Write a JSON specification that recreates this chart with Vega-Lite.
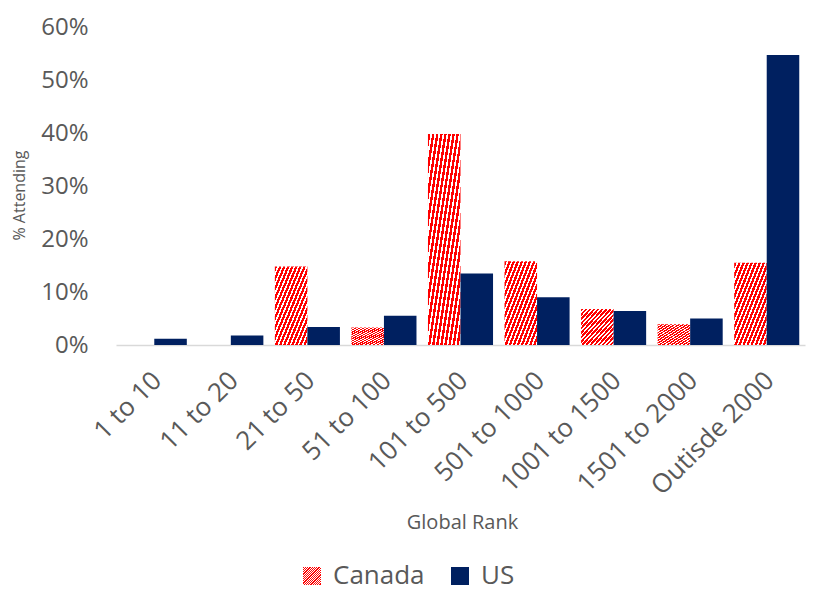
{
  "$schema": "https://vega.github.io/schema/vega-lite/v6.json",
  "width": 689,
  "height": 318,
  "autosize": {"type": "none"},
  "padding": {"left": 116, "top": 27, "right": 8, "bottom": 247},
  "background": "white",
  "config": {"view": {"stroke": null}, "font": "Open Sans"},
  "data": {
    "values": [
      {"rank": "1 to 10", "country": "Canada", "share": 0.0},
      {"rank": "1 to 10", "country": "US", "share": 0.012},
      {"rank": "11 to 20", "country": "Canada", "share": 0.0},
      {"rank": "11 to 20", "country": "US", "share": 0.018},
      {"rank": "21 to 50", "country": "Canada", "share": 0.148},
      {"rank": "21 to 50", "country": "US", "share": 0.034},
      {"rank": "51 to 100", "country": "Canada", "share": 0.033},
      {"rank": "51 to 100", "country": "US", "share": 0.055},
      {"rank": "101 to 500", "country": "Canada", "share": 0.398},
      {"rank": "101 to 500", "country": "US", "share": 0.135},
      {"rank": "501 to 1000", "country": "Canada", "share": 0.158},
      {"rank": "501 to 1000", "country": "US", "share": 0.09},
      {"rank": "1001 to 1500", "country": "Canada", "share": 0.068},
      {"rank": "1001 to 1500", "country": "US", "share": 0.064},
      {"rank": "1501 to 2000", "country": "Canada", "share": 0.039},
      {"rank": "1501 to 2000", "country": "US", "share": 0.05},
      {"rank": "Outisde 2000", "country": "Canada", "share": 0.155},
      {"rank": "Outisde 2000", "country": "US", "share": 0.547}
    ]
  },
  "mark": {"type": "bar", "strokeWidth": 0, "strokeOpacity": 0},
  "encoding": {
    "x": {
      "field": "rank",
      "type": "nominal",
      "sort": ["1 to 10", "11 to 20", "21 to 50", "51 to 100", "101 to 500", "501 to 1000", "1001 to 1500", "1501 to 2000", "Outisde 2000"],
      "scale": {"paddingInner": 0.15, "paddingOuter": 0.075},
      "axis": {
        "labelAngle": -45,
        "labelFontSize": 26,
        "labelColor": "#595959",
        "labelPadding": 22,
        "labelOffset": -6,
        "ticks": false,
        "domainColor": "#d9d9d9",
        "domainWidth": 1.5,
        "title": "Global Rank",
        "titleFontSize": 20,
        "titleFontWeight": "normal",
        "titleColor": "#595959",
        "titleX": 346,
        "titleY": 177,
        "titleBaseline": "middle"
      }
    },
    "xOffset": {"field": "country", "type": "nominal", "sort": ["Canada", "US"]},
    "y": {
      "field": "share",
      "type": "quantitative",
      "scale": {"domain": [0, 0.6], "nice": false},
      "axis": {
        "values": [0, 0.1, 0.2, 0.3, 0.4, 0.5, 0.6],
        "format": ".0%",
        "domain": false,
        "ticks": false,
        "grid": false,
        "labelFontSize": 24,
        "labelColor": "#595959",
        "labelPadding": 28,
        "title": "% Attending",
        "titleFontSize": 16,
        "titleFontWeight": "normal",
        "titleColor": "#595959",
        "titleAngle": -90,
        "titleX": -97,
        "titleY": 168,
        "titleAlign": "center",
        "titleBaseline": "middle"
      }
    },
    "fill": {
      "field": "country",
      "type": "nominal",
      "scale": {
        "domain": ["Canada", "US"],
        "range": [
          {"expr": "{gradient: 'linear', x1: 0, y1: 0, x2: 1, y2: 1, stops: [{offset: 0, color: '#ff0000'}, {offset: 0.0375, color: '#ff0000'}, {offset: 0.0375, color: '#ffffff'}, {offset: 0.0625, color: '#ffffff'}, {offset: 0.0625, color: '#ff0000'}, {offset: 0.1, color: '#ff0000'}, {offset: 0.1, color: '#ffffff'}, {offset: 0.125, color: '#ffffff'}, {offset: 0.125, color: '#ff0000'}, {offset: 0.1625, color: '#ff0000'}, {offset: 0.1625, color: '#ffffff'}, {offset: 0.1875, color: '#ffffff'}, {offset: 0.1875, color: '#ff0000'}, {offset: 0.225, color: '#ff0000'}, {offset: 0.225, color: '#ffffff'}, {offset: 0.25, color: '#ffffff'}, {offset: 0.25, color: '#ff0000'}, {offset: 0.2875, color: '#ff0000'}, {offset: 0.2875, color: '#ffffff'}, {offset: 0.3125, color: '#ffffff'}, {offset: 0.3125, color: '#ff0000'}, {offset: 0.35, color: '#ff0000'}, {offset: 0.35, color: '#ffffff'}, {offset: 0.375, color: '#ffffff'}, {offset: 0.375, color: '#ff0000'}, {offset: 0.4125, color: '#ff0000'}, {offset: 0.4125, color: '#ffffff'}, {offset: 0.4375, color: '#ffffff'}, {offset: 0.4375, color: '#ff0000'}, {offset: 0.475, color: '#ff0000'}, {offset: 0.475, color: '#ffffff'}, {offset: 0.5, color: '#ffffff'}, {offset: 0.5, color: '#ff0000'}, {offset: 0.5375, color: '#ff0000'}, {offset: 0.5375, color: '#ffffff'}, {offset: 0.5625, color: '#ffffff'}, {offset: 0.5625, color: '#ff0000'}, {offset: 0.6, color: '#ff0000'}, {offset: 0.6, color: '#ffffff'}, {offset: 0.625, color: '#ffffff'}, {offset: 0.625, color: '#ff0000'}, {offset: 0.6625, color: '#ff0000'}, {offset: 0.6625, color: '#ffffff'}, {offset: 0.6875, color: '#ffffff'}, {offset: 0.6875, color: '#ff0000'}, {offset: 0.725, color: '#ff0000'}, {offset: 0.725, color: '#ffffff'}, {offset: 0.75, color: '#ffffff'}, {offset: 0.75, color: '#ff0000'}, {offset: 0.7875, color: '#ff0000'}, {offset: 0.7875, color: '#ffffff'}, {offset: 0.8125, color: '#ffffff'}, {offset: 0.8125, color: '#ff0000'}, {offset: 0.85, color: '#ff0000'}, {offset: 0.85, color: '#ffffff'}, {offset: 0.875, color: '#ffffff'}, {offset: 0.875, color: '#ff0000'}, {offset: 0.9125, color: '#ff0000'}, {offset: 0.9125, color: '#ffffff'}, {offset: 0.9375, color: '#ffffff'}, {offset: 0.9375, color: '#ff0000'}, {offset: 0.975, color: '#ff0000'}, {offset: 0.975, color: '#ffffff'}, {offset: 1, color: '#ffffff'}]}"},
          "#002060"
        ]
      },
      "legend": {
        "title": null,
        "orient": "none",
        "direction": "horizontal",
        "legendX": 183,
        "legendY": 536,
        "symbolType": "square",
        "symbolSize": 324,
        "symbolStrokeWidth": 0,
        "labelFontSize": 26,
        "labelColor": "#595959",
        "labelOffset": 8,
        "columnPadding": 22
      }
    }
  }
}
